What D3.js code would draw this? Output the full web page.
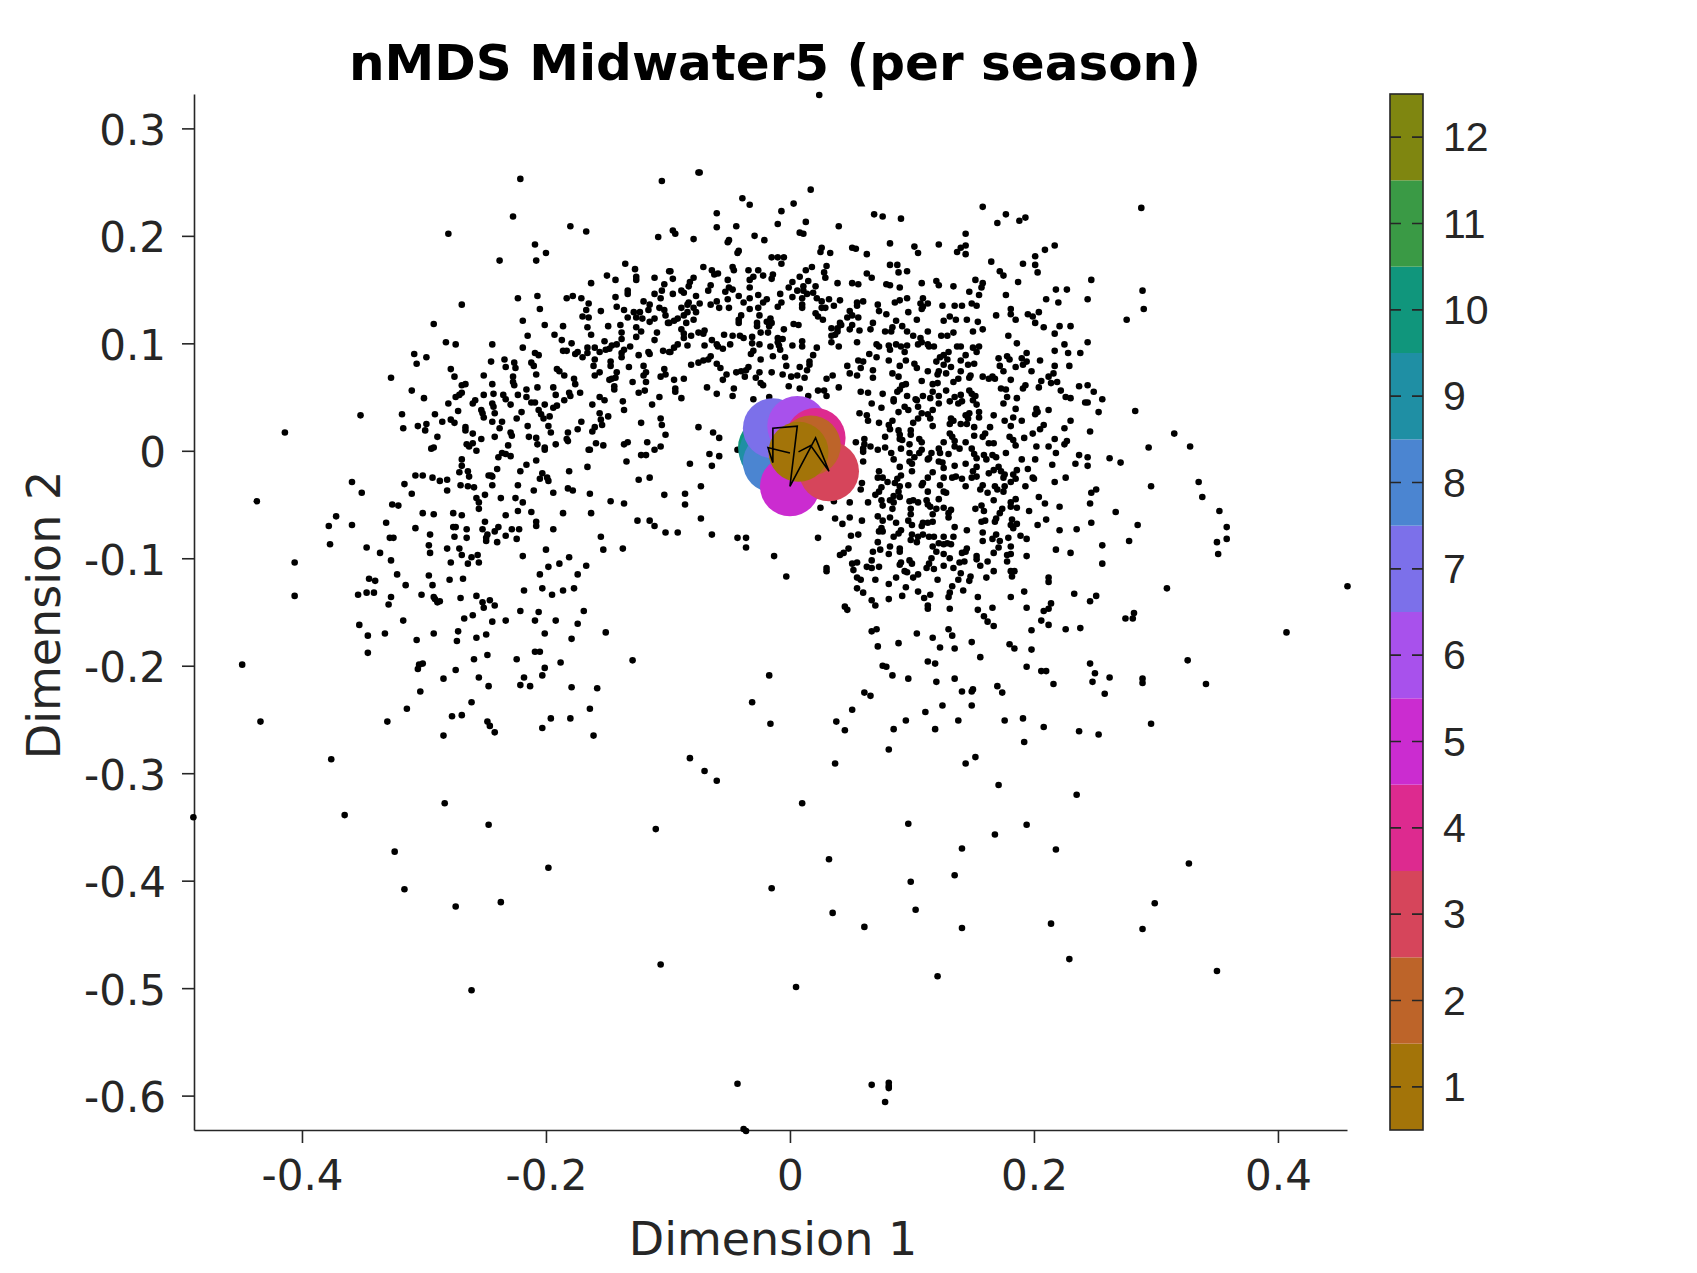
<!DOCTYPE html>
<html>
<head>
<meta charset="utf-8">
<script src="https://cdn.jsdelivr.net/npm/d3@7"></script>
<style>
body { margin: 0; background: #fff; }
text { fill: #262626; font-family: "DejaVu Sans"; }
.domain, .tick line { stroke: #262626; stroke-width: 1.6; }
</style>
</head>
<body>
<script>
// values: [dimension 1, dimension 2]
var points = [
[-.238,.177],[-.208,.177],[-.200,.184],[-.135,.174],[-.127,.169],[-.126,.162],[-.126,.159],[-.150,.163],[-.143,.159],[-.111,.161],[-.163,.156],[-.103,.155],[-.099,.167],[-.105,.149],[-.111,.146],[-.133,.149],[-.133,.146],[-.106,.142],[-.143,.143],[-.207,.144],[-.223,.142],[-.183,.142],[-.178,.144],[-.171,.142],[-.165,.137],[-.269,.136],[-.205,.132],[-.120,.139],[-.115,.136],[-.116,.131],[-.142,.134],[-.136,.131],[-.167,.131],[-.155,.130],[-.107,.133],[-.103,.131],[-.102,.126],[-.128,.129],[-.123,.129],[-.126,.124],[-.121,.123],[-.133,.124],[-.170,.125],[-.165,.124],[-.111,.123],[-.115,.120],[-.100,.119],[-.219,.121],[-.292,.118],[-.201,.117],[-.186,.116],[-.166,.115],[-.149,.116],[-.139,.117],[-.126,.115],[-.122,.111],[-.138,.110],[-.109,.110],[-.215,.107],[-.193,.108],[-.163,.108],[-.138,.104],[-.126,.106],[-.187,.103],[-.152,.102],[-.111,.103],[-.282,.101],[-.274,.099],[-.244,.099],[-.179,.100],[-.142,.099],[-.146,.098],[-.131,.097],[-.166,.096],[-.160,.096],[-.148,.095],[-.151,.094],[-.219,.096],[-.156,.092],[-.186,.093],[-.183,.093],[-.136,.094],[-.138,.091],[-.104,.093],[-.099,.092],[-.174,.092],[-.176,.090],[-.166,.091],[-.170,.087],[-.116,.092],[-.115,.090],[-.124,.089],[-.138,.087],[-.308,.090],[-.298,.087],[-.209,.091],[-.206,.089],[-.234,.085],[-.245,.083],[-.160,.085],[-.147,.083],[-.212,.082],[-.226,.082],[-.306,.081],[-.147,.079],[-.210,.079],[-.225,.077],[-.233,.078],[-.161,.079],[-.120,.079],[-.132,.078],[-.278,.076],[-.191,.076],[-.189,.074],[-.103,.076],[-.118,.073],[-.142,.073],[-.156,.073],[-.208,.071],[-.251,.070],[-.102,.071],[-.120,.070],[-.185,.070],[-.160,.070],[-.106,.069],[-.275,.069],[-.327,.068],[-.227,.069],[-.177,.067],[-.143,.068],[-.146,.067],[-.148,.066],[-.227,.064],[-.244,.062],[-.118,.064],[-.129,.064],[-.176,.062],[-.266,.062],[-.269,.061],[-.226,.061],[-.144,.060],[-.144,.057],[-.207,.059],[-.194,.059],[-.216,.057],[-.119,.056],[-.310,.056],[-.124,.054],[-.269,.054],[-.271,.052],[-.274,.050],[-.300,.049],[-.172,.054],[-.181,.054],[-.243,.053],[-.251,.052],[-.235,.052],[-.223,.052],[-.192,.052],[-.180,.051],[-.216,.050],[-.233,.048],[-.107,.050],[-.156,.050],[-.152,.047],[-.185,.047],[-.258,.047],[-.260,.044],[-.212,.045],[-.209,.045],[-.137,.046],[-.280,.044],[-.244,.044],[-.201,.043],[-.162,.043],[-.229,.043],[-.191,.042],[-.194,.040],[-.113,.043],[-.243,.041],[-.253,.038],[-.136,.038],[-.206,.038],[-.272,.037],[-.220,.036],[-.242,.035],[-.252,.035],[-.318,.034],[-.156,.035],[-.291,.034],[-.352,.033],[-.204,.034],[-.197,.032],[-.149,.032],[-.251,.031],[-.202,.030],[-.224,.030],[-.106,.030],[-.278,.029],[-.155,.029],[-.285,.027],[-.275,.026],[-.244,.027],[-.236,.027],[-.171,.027],[-.122,.026],[-.154,.024],[-.105,.024],[-.298,.025],[-.305,.023],[-.215,.023],[-.198,.023],[-.266,.022],[-.238,.021],[-.317,.021],[-.160,.022],[-.174,.020],[-.299,.019],[-.266,.019],[-.162,.018],[-.196,.017],[-.182,.017],[-.229,.017],[-.260,.016],[-.102,.015],[-.228,.014],[-.289,.013],[-.242,.013],[-.214,.013],[-.208,.012],[-.253,.011],[-.183,.011],[-.182,.009],[-.207,.006],[-.260,.007],[-.265,.006],[-.263,.004],[-.192,.006],[-.231,.005],[-.159,.007],[-.153,.005],[-.136,.006],[-.133,.008],[-.117,.008],[-.106,.004],[-.201,.003],[-.201,.001],[-.292,.003],[-.294,.002],[-.257,.000],[-.165,.001],[-.164,.001],[-.111,.001],[-.122,-.004],[-.118,-.004],[-.236,-.002],[-.239,-.006],[-.233,-.003],[-.229,-.005],[-.269,-.008],[-.208,-.009],[-.134,-.010],[-.216,-.013],[-.269,-.014],[-.166,-.015],[-.240,-.017],[-.264,-.019],[-.271,-.020],[-.221,-.019],[-.181,-.019],[-.203,-.021],[-.301,-.023],[-.307,-.023],[-.247,-.023],[-.245,-.023],[-.263,-.024],[-.244,-.024],[-.293,-.025],[-.287,-.028],[-.281,-.027],[-.205,-.026],[-.199,-.025],[-.198,-.028],[-.115,-.025],[-.124,-.027],[-.359,-.029],[-.316,-.031],[-.270,-.032],[-.244,-.032],[-.223,-.032],[-.264,-.033],[-.259,-.034],[-.182,-.035],[-.178,-.037],[-.281,-.037],[-.210,-.037],[-.351,-.039],[-.310,-.040],[-.194,-.039],[-.164,-.040],[-.103,-.041],[-.250,-.041],[-.257,-.044],[-.237,-.044],[-.225,-.044],[-.219,-.048],[-.147,-.047],[-.136,-.049],[-.326,-.050],[-.321,-.051],[-.255,-.048],
[-.255,-.054],[-.372,-.061],[-.233,-.060],[-.301,-.058],[-.292,-.059],[-.276,-.058],[-.269,-.060],[-.223,-.056],[-.212,-.057],[-.186,-.058],[-.163,-.058],[-.125,-.065],[-.115,-.065],[-.111,-.070],[-.102,-.076],[-.359,-.069],[-.331,-.067],[-.250,-.066],[-.208,-.066],[-.208,-.070],[-.307,-.072],[-.276,-.071],[-.274,-.071],[-.265,-.073],[-.252,-.073],[-.239,-.071],[-.242,-.075],[-.228,-.073],[-.222,-.073],[-.194,-.073],[-.295,-.078],[-.248,-.078],[-.233,-.079],[-.328,-.081],[-.325,-.081],[-.275,-.080],[-.265,-.081],[-.249,-.081],[-.249,-.084],[-.224,-.082],[-.155,-.080],[-.240,-.085],[-.296,-.088],[-.347,-.090],[-.281,-.091],[-.271,-.091],[-.200,-.092],[-.153,-.092],[-.137,-.091],[-.336,-.095],[-.295,-.095],[-.269,-.097],[-.256,-.097],[-.261,-.099],[-.219,-.098],[-.181,-.099],[-.327,-.102],[-.278,-.104],[-.264,-.105],[-.255,-.104],[-.189,-.105],[-.198,-.108],[-.167,-.107],[-.322,-.115],[-.296,-.116],[-.205,-.115],[-.174,-.115],[-.345,-.119],[-.340,-.121],[-.279,-.120],[-.268,-.119],[-.315,-.125],[-.293,-.125],[-.218,-.130],[-.203,-.128],[-.186,-.130],[-.177,-.128],[-.354,-.134],[-.347,-.132],[-.341,-.132],[-.302,-.134],[-.195,-.134],[-.327,-.136],[-.257,-.135],[-.292,-.136],[-.291,-.138],[-.270,-.137],[-.287,-.140],[-.289,-.141],[-.246,-.139],[-.252,-.141],[-.329,-.143],[-.242,-.144],[-.251,-.146],[-.221,-.149],[-.206,-.150],[-.169,-.149],[-.260,-.153],[-.267,-.156],[-.317,-.158],[-.209,-.158],[-.192,-.158],[-.233,-.158],[-.244,-.159],[-.353,-.162],[-.174,-.161],[-.272,-.168],[-.346,-.172],[-.332,-.170],[-.292,-.170],[-.249,-.171],[-.201,-.170],[-.151,-.169],[-.257,-.174],[-.306,-.176],[-.273,-.177],[-.179,-.175],[-.346,-.188],[-.209,-.187],[-.205,-.187],[-.248,-.190],[-.259,-.194],[-.224,-.194],[-.129,-.195],[-.188,-.197],[-.301,-.198],[-.304,-.199],[-.305,-.203],[-.201,-.202],[-.274,-.204],[-.203,-.209],[-.284,-.212],[-.255,-.211],[-.218,-.211],[-.221,-.218],[-.213,-.219],[-.247,-.219],[-.179,-.220],[-.158,-.221],[-.303,-.224],[-.261,-.234],[-.314,-.240],[-.164,-.240],[-.269,-.246],[-.277,-.247],[-.196,-.249],[-.180,-.249],[-.330,-.252],[-.248,-.252],[-.246,-.256],[-.203,-.258],[-.242,-.262],[-.284,-.265],[-.161,-.265],
[-.074,.259],[.017,.243],[-.039,.235],[-.033,.229],[.003,.230],[-.060,.221],[-.007,.223],[-.060,.208],[-.044,.209],[-.010,.211],[.013,.213],[-.096,.205],[-.094,.202],[.008,.203],[.011,.202],[-.079,.197],[-.029,.200],[-.021,.196],[-.050,.196],[-.051,.194],[.040,.209],[-.042,.186],[-.043,.184],[.026,.189],[.025,.185],[.033,.184],[-.015,.180],[-.010,.180],[-.005,.180],[-.007,.174],[-.071,.171],[-.047,.171],[-.046,.168],[-.064,.168],[-.034,.168],[-.026,.168],[-.098,.167],[-.062,.164],[-.059,.165],[.018,.171],[.013,.168],[.030,.172],[.028,.166],[-.014,.164],[-.022,.163],[.008,.162],[-.096,.160],[-.079,.161],[-.030,.162],[-.015,.160],[.029,.161],[-.033,.159],[-.051,.159],[.015,.158],[-.082,.157],[.002,.157],[.039,.156],[-.065,.154],[-.083,.153],[-.033,.152],[-.001,.152],[.021,.153],[-.050,.152],[.011,.153],[-.047,.150],[-.067,.149],[-.089,.149],[.006,.149],[-.053,.148],[-.096,.146],[-.087,.147],[.011,.149],[-.008,.146],[.019,.147],[.014,.146],[-.077,.144],[-.042,.144],[-.026,.145],[-.033,.142],[-.051,.141],[.002,.143],[.010,.142],[.022,.142],[.032,.141],[.041,.140],[-.019,.141],[-.038,.138],[-.022,.138],[-.060,.139],[.026,.139],[-.083,.138],[-.074,.137],[-.065,.136],[-.007,.138],[-.010,.134],[-.084,.136],[.036,.135],[.010,.136],[.010,.133],[-.058,.133],[-.050,.133],[-.026,.133],[-.033,.132],[-.089,.133],[-.079,.133],[-.077,.129],[-.084,.129],[.026,.133],[.029,.133],[-.087,.126],[-.025,.126],[.021,.128],[.023,.125],[.027,.122],[-.040,.126],[-.042,.122],[-.079,.122],[-.016,.123],[-.015,.119],[-.019,.120],[-.042,.119],[-.092,.123],[-.095,.121],[-.099,.119],[-.085,.119],[-.027,.119],[-.027,.116],[.003,.118],[.007,.117],[.041,.119],[-.005,.113],[.034,.114],[.039,.114],[-.089,.113],[-.017,.116],[.039,.111],[-.075,.110],[-.070,.112],[-.071,.109],[-.024,.110],[-.018,.110],[-.087,.109],[-.054,.108],[-.047,.107],[-.041,.107],[-.038,.105],[-.031,.106],[-.087,.105],[-.081,.107],[.037,.108],[.034,.107],[-.010,.105],[-.006,.104],[-.064,.103],[-.031,.100],[-.010,.101],[-.060,.099],[-.059,.097],[-.049,.099],[-.070,.098],[-.084,.098],[-.025,.099],[.002,.098],[.010,.102],[.010,.097],[.034,.101],[.040,.097],[-.016,.097],[-.009,.098],[-.092,.099],[-.095,.096],[-.008,.094],[.022,.096],[-.055,.095],[-.098,.092],[-.030,.093],[-.032,.090],[.019,.089],[-.014,.088],[-.004,.087],[-.065,.088],[-.067,.085],[-.024,.085],[-.071,.084],[-.075,.082],[-.060,.081],[-.081,.080],[.016,.083],[-.003,.079],[.016,.080],[-.057,.077],[-.034,.078],[.008,.078],[.014,.075],[-.036,.075],[-.044,.073],[-.040,.074],[-.025,.073],[-.015,.073],[-.052,.071],[-.006,.071],[-.037,.069],[.035,.070],[.006,.070],[.001,.069],[.012,.068],[-.028,.068],[.030,.067],[-.087,.067],[-.095,.066],[-.055,.066],[-.094,.058],[-.094,.055],[-.024,.063],[-.022,.061],[-.068,.059],[-.046,.058],[-.001,.060],[.008,.058],[.040,.059],[.023,.056],[-.060,.053],[.028,.056],[.030,.051],[-.047,.051],[-.089,.049],[-.030,.048],[.015,.051],[-.017,.050],
[.069,.220],[.076,.218],[.091,.216],[.158,.227],[.170,.212],[.288,.226],[.177,.220],[.188,.214],[.193,.217],
[.024,.331],[-.221,.253],[-.075,.259],[-.105,.251],[-.227,.218],[-.280,.202],[-.180,.209],[-.167,.204],[-.108,.199],[-.209,.192],
[-.414,.017],[-.437,-.047],[-.406,-.104],[-.406,-.135],[-.377,-.087],[-.378,-.070],[-.449,-.199],[-.434,-.252],[-.376,-.287],[-.365,-.339],[-.489,-.341],[-.324,-.373],[-.316,-.408],[-.274,-.424],[-.283,-.328],[-.247,-.348],[-.237,-.420],[-.261,-.502],[-.198,-.388],[-.110,-.352],[-.106,-.478],[-.082,-.286],[-.070,-.298],[-.060,-.307],[.010,-.328],[.032,-.380],[-.015,-.407],[.035,-.430],[.005,-.499],[-.043,-.589],[-.038,-.631],[-.036,-.633],[-.017,-.209],[-.031,-.234],[-.016,-.254],[.038,-.252],[.037,-.291],
[-.075,.022],[-.063,.017],[-.058,.012],[-.043,.001],[-.066,-.003],[-.058,-.005],[-.082,-.012],[-.064,-.014],[-.073,-.033],[-.086,-.040],[-.086,-.050],[-.073,-.063],[-.064,-.078],[-.043,-.081],[-.036,-.081],[.025,-.053],[.036,-.047],[.037,-.063],[.023,-.081],[-.036,-.090],[-.013,-.098],[-.003,-.117],[.030,-.109],[.030,-.112],[.041,-.097],[-.092,-.076],
[.144,.202],[.082,.193],[.051,.189],[.054,.188],[.102,.190],[.105,.184],[.122,.192],[.063,.183],[.140,.189],[.144,.191],[.137,.185],[.144,.183],[.217,.191],[.209,.187],[.201,.181],[.165,.176],[.082,.173],[.088,.173],[.191,.174],[.201,.173],[.089,.166],[.096,.167],[.172,.167],[.175,.163],[.203,.166],[.063,.165],[.067,.161],[.051,.156],[.056,.155],[.079,.155],[.082,.154],[.090,.152],[.108,.156],[.120,.158],[.122,.154],[.152,.159],[.158,.156],[.157,.152],[.134,.153],[.187,.157],[.247,.159],[.227,.150],[.218,.150],[.289,.149],[.147,.148],[.155,.145],[.177,.145],[.096,.142],[.090,.140],[.086,.138],[.109,.142],[.113,.137],[.107,.137],[.109,.134],[.210,.141],[.220,.138],[.244,.141],[.060,.139],[.055,.138],[.055,.135],[.072,.136],[.125,.135],[.135,.135],[.141,.135],[.149,.137],[.153,.135],[.181,.132],[.290,.132],[.073,.130],[.079,.127],[.097,.129],[.108,.132],[.049,.130],[.181,.127],[.204,.129],[.169,.126],[.195,.127],[.199,.125],[.276,.122],[.051,.126],[.047,.124],[.056,.124],[.131,.125],[.087,.121],[.104,.122],[.126,.121],[.136,.122],[.145,.122],[.154,.120],[.185,.122],[.201,.119],[.068,.119],[.221,.116],[.230,.116],[.092,.116],[.051,.117],[.042,.117],[.049,.113],[.066,.113],[.057,.112],[.084,.115],[.078,.111],[.083,.111],[.158,.113],[.208,.115],[.096,.111],[.113,.111],[.150,.111],[.134,.110],[.217,.109],[.101,.107],[.124,.107],[.129,.107],[.179,.107],[.107,.105],[.055,.101],[.186,.100],[.244,.101],[.225,.099],[.071,.099],[.073,.097],[.108,.101],[.105,.099],[.113,.099],[.118,.097],[.081,.098],[.087,.099],[.096,.098],[.091,.097],[.137,.097],[.140,.097],[.150,.096],[.155,.097],[.114,.097],[.082,.094],[.094,.092],[.130,.092],[.153,.092],[.217,.093],[.194,.091],[.228,.091],[.238,.091],[.065,.090],[.144,.089],[.126,.089],[.123,.087],[.178,.088],[.071,.087],[.171,.086],[.190,.086],[.180,.085],[.129,.085],[.095,.084],[.081,.084],[.205,.084],[.194,.083],[.056,.084],[.060,.083],[.120,.083],[.140,.084],[.126,.080],[.229,.079],[.217,.079],[.191,.080],[.102,.081],[.151,.081],[.146,.080],[.047,.079],[.172,.079],[.090,.079],[.185,.078],[.058,.077],[.104,.077],[.132,.078],[.140,.074],[.068,.075],[.175,.074],[.198,.074],[.113,.074],[.122,.074],[.128,.072],[.049,.072],[.216,.072],[.084,.072],[.055,.070],[.089,.069],[.121,.071],[.158,.069],[.212,.069],[.148,.070],[.068,.068],[.166,.069],[.163,.067],[.168,.067],[.181,.066],[.147,.068],[.138,.067],[.134,.064],[.108,.065],[.206,.065],[.219,.064],[.214,.063],[.117,.062],[.121,.063],[.095,.062],[.092,.061],[.193,.061],[.237,.060],[.244,.061],[.204,.059],[.191,.058],[.090,.057],[.222,.056],[.128,.056],[.147,.056],[.173,.058],[.177,.057],[.088,.055],[.058,.055],[.064,.054],[.076,.053],[.149,.053],[.249,.055],[.117,.055],[.096,.051],[.109,.051],[.140,.052],[.135,.050],[.226,.050],[.230,.049],[.178,.050],[.122,.051],[.186,.049],[.256,.048],[.152,.051],[.115,.049],[.085,.048],[.103,.048],
[.242,.045],[.244,.045],[.253,.036],[.283,.037],[.315,.016],[.246,.018],[.230,.028],[.225,.021],[.208,.024],[.205,.020],[.212,.038],[.202,.039],[.201,.034],[.203,.036],[.190,.028],[.185,.039],[.183,.031],[.181,.023],[.176,.028],[.175,.044],[.167,.033],[.164,.022],[.155,.036],[.155,.031],[.147,.035],[.144,.033],[.146,.030],[.151,.022],[.145,.025],[.140,.025],[.134,.028],[.132,.030],[.131,.025],[.131,.016],[.133,.013],[.135,.009],[.139,.002],[.135,.004],[.144,.008],[.126,.008],[.151,.014],[.160,.016],[.158,.013],[.163,.007],[.167,.007],[.180,.013],[.183,.010],[.185,.005],[.192,.012],[.199,.016],[.202,.004],[.212,.004],[.217,.011],[.227,.009],[.225,.006],[.218,-.002],[.177,-.002],[.237,-.004],[.244,-.006],[.262,-.007],[.271,-.011],[.294,.003],[.234,-.012],[.244,-.014],[.215,-.013],[.201,-.008],[.190,-.008],[.195,-.017],[.226,-.025],[.217,-.029],[.199,-.025],[.200,-.026],[.193,-.033],[.296,-.033],[.251,-.036],[.247,-.039],[.246,-.049],[.221,-.052],[.204,-.043],[.209,-.049],[.267,-.057],[.196,-.056],[.210,-.064],[.203,-.069],[.247,-.067],[.285,-.069],[.221,-.074],[.235,-.073],[.189,-.079],[.194,-.082],[.278,-.084],[.256,-.088],[.218,-.092],[.230,-.095],[.194,-.098],[.256,-.105],[.181,-.112],[.184,-.112],[.182,-.117],[.212,-.118],[.212,-.122],[.309,-.128],[.192,-.131],[.233,-.133],[.251,-.135],[.246,-.140],[.181,-.136],[.214,-.142],[.194,-.146],[.212,-.147],[.208,-.149],[.282,-.151],[.281,-.156],[.275,-.156],[.206,-.158],[.212,-.162],[.226,-.166],[.238,-.165],[.198,-.167],[.167,-.163],[.162,-.159],[.159,-.154],[.154,-.148],[.166,-.146],[.154,-.136],[.131,-.147],[.113,-.144],[.113,-.147],[.142,-.130],[.133,-.126],[.131,-.132],[.130,-.136],[.115,-.134],[.110,-.137],[.105,-.131],[.095,-.127],[.092,-.135],[.081,-.138],[.081,-.124],[.070,-.120],[.055,-.128],[.060,-.132],[.067,-.139],[.070,-.144],[.045,-.145],[.047,-.148],[.071,-.166],[.067,-.168],[.104,-.170],[.130,-.166],[.133,-.172],[.117,-.174],
[.067,.044],[.075,.040],[.089,.036],[.085,.046],[.094,.041],[.097,.038],[.057,.035],[.063,.033],[.064,.028],[.073,.026],[.084,.028],[.081,.024],[.082,.020],[.078,.013],[.089,.019],[.090,.015],[.090,.011],[.092,.010],[.101,.026],[.099,.019],[.099,.015],[.105,.030],[.117,.023],[.104,.047],[.105,.041],[.108,.035],[.113,.034],[.115,.030],[.122,.044],[.117,.038],[.138,.044],[.141,.046],[.131,.046],[.150,.047],[.153,.043],[.106,.011],[.108,.008],[.098,.006],[.091,.002],[.078,.003],[.072,.001],[.083,-.002],[.085,-.008],[.066,.004],[.061,.011],[.060,.002],[.060,-.001],[.061,.006],[.060,-.010],[.054,.008],[.106,-.002],[.102,-.006],[.100,-.012],[.098,-.002],[.098,-.010],[.108,.001],[.100,-.019],[.090,-.015],[.122,.002],[.123,-.002],[.130,-.003],[.114,-.007],[.113,-.008],[.116,-.002],[.122,-.010],[.125,-.011],[.135,-.014],[.144,-.012],[.149,.002],[.151,-.003],[.153,-.007],[.159,-.004],[.161,-.008],[.166,-.004],[.169,-.006],[.153,-.015],[.150,-.019],[.149,-.025],[.153,-.024],[.163,-.021],[.167,-.018],[.171,-.015],[.173,-.019],[.175,-.025],[.176,-.022],[.186,-.018],[.183,-.022],[.181,-.029],[.185,-.026],[.126,-.016],[.126,-.025],[.136,-.024],[.133,-.025],[.141,-.026],[.144,-.033],[.117,-.020],[.113,-.025],[.109,-.030],[.108,-.032],[.073,-.019],[.072,-.025],[.076,-.025],[.080,-.029],[.091,-.023],[.088,-.026],[.086,-.030],[.090,-.033],[.097,-.032],[.123,-.032],[.158,-.032],[.156,-.036],[.162,-.039],[.168,-.033],[.170,-.036],[.175,-.038],[.176,-.033],[.059,-.030],[.058,-.036],[.075,-.034],[.073,-.038],[.070,-.041],[.089,-.038],[.090,-.043],[.085,-.042],[.082,-.046],[.085,-.048],[.113,-.038],[.126,-.038],[.128,-.039],[.122,-.045],[.167,-.046],[.185,-.045],[.181,-.048],[.181,-.052],[.186,-.053],[.075,-.046],[.076,-.051],[.064,-.048],[.049,-.048],[.098,-.047],[.101,-.046],[.105,-.048],[.112,-.046],[.113,-.050],[.115,-.052],[.084,-.054],[.126,-.053],[.132,-.055],[.130,-.058],[.130,-.062],[.152,-.054],[.157,-.051],[.159,-.056],[.174,-.054],[.172,-.058],[.099,-.054],[.099,-.059],[.120,-.054],[.117,-.059],[.072,-.061],[.049,-.062],[.082,-.062],[.059,-.065],[.043,-.068],[.076,-.065],[.087,-.067],[.097,-.065],[.100,-.069],[.109,-.067],[.113,-.067],[.117,-.066],[.108,-.070],[.135,-.071],[.145,-.074],[.157,-.066],[.160,-.065],[.169,-.063],[.168,-.066],[.182,-.064],[.181,-.069],[.186,-.068],[.183,-.072],[.075,-.072],[.073,-.075],[.076,-.075],[.091,-.074],[.089,-.077],[.085,-.080],[.158,-.076],[.169,-.078],[.166,-.082],[.050,-.079],[.056,-.078],[.100,-.078],[.099,-.083],[.104,-.085],[.109,-.078],[.105,-.080],[.114,-.080],[.118,-.080],[.126,-.080],[.134,-.080],[.179,-.081],[.172,-.084],[.171,-.090],[.158,-.084],[.072,-.085],[.082,-.089],[.129,-.086],[.132,-.087],[.126,-.087],[.122,-.086],[.117,-.089],[.120,-.094],[.181,-.089],[.090,-.091],[.090,-.094],[.074,-.092],[.068,-.094],[.081,-.096],[.048,-.091],[.044,-.095],[.145,-.091],[.144,-.094],[.141,-.095],[.167,-.095],[.181,-.096],[.178,-.097],[.126,-.096],[.131,-.100],[.153,-.098],[.153,-.101],[.162,-.103],[.178,-.103],[.067,-.102],[.098,-.102],[.091,-.104],[.090,-.106],[.100,-.105],[.116,-.100],[.114,-.105],[.112,-.109],[.139,-.104],[.143,-.103],[.051,-.105],[.055,-.104],[.052,-.111],[.063,-.108],[.067,-.109],[.073,-.108],[.094,-.112],[.096,-.113],[.118,-.110],[.126,-.107],[.134,-.109],[.156,-.107],[.167,-.112],[.140,-.114],[.138,-.120],[.148,-.117],[.147,-.121],[.161,-.118],[.105,-.115],[.101,-.118],[.087,-.118],[.121,-.120],[.055,-.118],[.058,-.120],
[.149,-.178],[.089,-.179],[.072,-.182],[.180,-.180],[.184,-.184],[.123,-.183],[.135,-.184],[.198,-.185],[.156,-.192],[.113,-.196],[.119,-.198],[.246,-.198],[.076,-.200],[.079,-.201],[.194,-.201],[.206,-.205],[.210,-.205],[.250,-.207],[.084,-.209],[.262,-.211],[.097,-.212],[.135,-.212],[.289,-.212],[.289,-.216],[.120,-.215],[.248,-.215],[.216,-.217],[.170,-.219],[.150,-.222],[.149,-.224],[.141,-.224],[.174,-.225],[.061,-.225],[.066,-.228],[.258,-.226],[.149,-.237],[.125,-.237],[.051,-.241],[.111,-.243],[.191,-.249],[.095,-.251],[.138,-.251],[.176,-.251],[.296,-.254],[.085,-.259],[.119,-.259],[.045,-.260],[.208,-.257],[.237,-.261],[.253,-.264],[.192,-.271],[.081,-.278],[.152,-.285],[.144,-.291],[.171,-.311],[.235,-.320],[.097,-.347],[.194,-.348],
[.168,-.357],[.141,-.370],[.218,-.371],[.327,-.384],[.135,-.395],[.099,-.401],[.299,-.421],[.103,-.427],[.061,-.443],[.141,-.444],[.214,-.440],[.289,-.445],[.229,-.473],[.350,-.484],[.121,-.489],[.067,-.590],[.081,-.588],[.081,-.591],[.081,-.593],[.078,-.606],[.326,-.195],[.341,-.217],
[.328,.004],[.335,-.029],[.338,-.043],[.352,-.056],[.358,-.071],[.358,-.082],[.350,-.085],[.351,-.096],[.457,-.126],[.407,-.169]
];

// mean position per month, index 0 = month 1
var months = [1, 2, 3, 4, 5, 6, 7, 8, 9, 10, 11, 12];
var monthDim1 = [.007, .017, .032, .021, .000, .006, -.014, -.014, -.017, -.018, -.011, .000];
var monthDim2 = [-.001, .005, -.019, .012, -.033, .023, .021, -.011, -.001, .003, .001, -.002];
var monthColors = ['#a37409', '#bd6429', '#d6455b', '#dd2a8f', '#cb2cd0', '#a851ec',
    '#7c70ea', '#4b85d1', '#1f8fa4', '#10967c', '#3a9a45', '#7f8610'];

var xTicks = [-0.4, -0.2, 0, 0.2, 0.4];
var yTicks = [0.3, 0.2, 0.1, 0, -0.1, -0.2, -0.3, -0.4, -0.5, -0.6];

var svg = d3.select('body').append('svg')
    .attr('width', 1697)
    .attr('height', 1273);

var x = d3.scaleLinear().domain([-0.4885, 0.4566]).range([194, 1347]);
var y = d3.scaleLinear().domain([-0.632, 0.332]).range([1130, 94]);
var c = d3.scaleLinear().domain([0.5, 12.5]).range([1130, 94]);

var xAxis = svg.append('g')
    .attr('transform', 'translate(0,1130)')
    .call(d3.axisBottom(x).tickValues(xTicks).tickFormat(String).tickSize(13).tickSizeOuter(0).tickPadding(17));

var yAxis = svg.append('g')
    .attr('transform', 'translate(194,0)')
    .call(d3.axisLeft(y).tickValues(yTicks).tickFormat(String).tickSize(12).tickSizeOuter(0).tickPadding(16));

svg.selectAll('.tick text')
    .style('font-family', '"DejaVu Sans"')
    .style('font-size', '42px');

yAxis.selectAll('.tick text').attr('dy', '0.38em');

svg.append('g').selectAll('circle')
    .data(points)
    .enter().append('circle')
    .attr('cx', function(d) { return x(d[0]); })
    .attr('cy', function(d) { return y(d[1]); })
    .attr('r', 3.3)
    .attr('fill', 'black');

// month 12 goes first so month 1 ends up on top
svg.append('g').selectAll('circle')
    .data(months.slice().reverse())
    .enter().append('circle')
    .attr('cx', function(m) { return x(monthDim1[m - 1]); })
    .attr('cy', function(m) { return y(monthDim2[m - 1]); })
    .attr('r', 30)
    .attr('fill', function(m) { return monthColors[m - 1]; });

var line = d3.line()
    .x(function(m) { return x(monthDim1[m - 1]); })
    .y(function(m) { return y(monthDim2[m - 1]); });

svg.append('path')
    .attr('d', line(months))
    .attr('fill', 'none')
    .attr('stroke', 'black')
    .attr('stroke-width', 1.6);

// colorbar
svg.append('g').selectAll('rect')
    .data(months)
    .enter().append('rect')
    .attr('x', 1390)
    .attr('width', 33)
    .attr('y', function(m) { return c(m + 0.5); })
    .attr('height', function(m) { return c(m - 0.5) - c(m + 0.5); })
    .attr('fill', function(m) { return monthColors[m - 1]; });

svg.append('rect')
    .attr('x', 1390)
    .attr('y', 94)
    .attr('width', 33)
    .attr('height', 1036)
    .attr('fill', 'none')
    .attr('stroke', '#262626')
    .attr('stroke-width', 1.6);

svg.append('g').selectAll('path')
    .data(months)
    .enter().append('path')
    .attr('d', function(m) {
        return 'M1390,' + c(m) + 'h11M1412,' + c(m) + 'h11';
    })
    .attr('stroke', '#262626')
    .attr('stroke-width', 1.6);

svg.append('g').selectAll('text')
    .data(months)
    .enter().append('text')
    .attr('x', 1443)
    .attr('y', function(m) { return c(m) + 14; })
    .style('font-family', '"Liberation Sans"')
    .style('font-size', '41px')
    .text(String);

svg.append('text')
    .attr('x', 775)
    .attr('y', 80)
    .attr('text-anchor', 'middle')
    .style('font-size', '50px')
    .style('font-weight', 'bold')
    .style('fill', 'black')
    .text('nMDS Midwater5 (per season)');

svg.append('text')
    .attr('x', 773)
    .attr('y', 1255)
    .attr('text-anchor', 'middle')
    .style('font-size', '46px')
    .text('Dimension 1');

svg.append('text')
    .attr('transform', 'translate(60,615) rotate(-90)')
    .attr('text-anchor', 'middle')
    .style('font-size', '46px')
    .text('Dimension 2');
</script>
</body>
</html>
